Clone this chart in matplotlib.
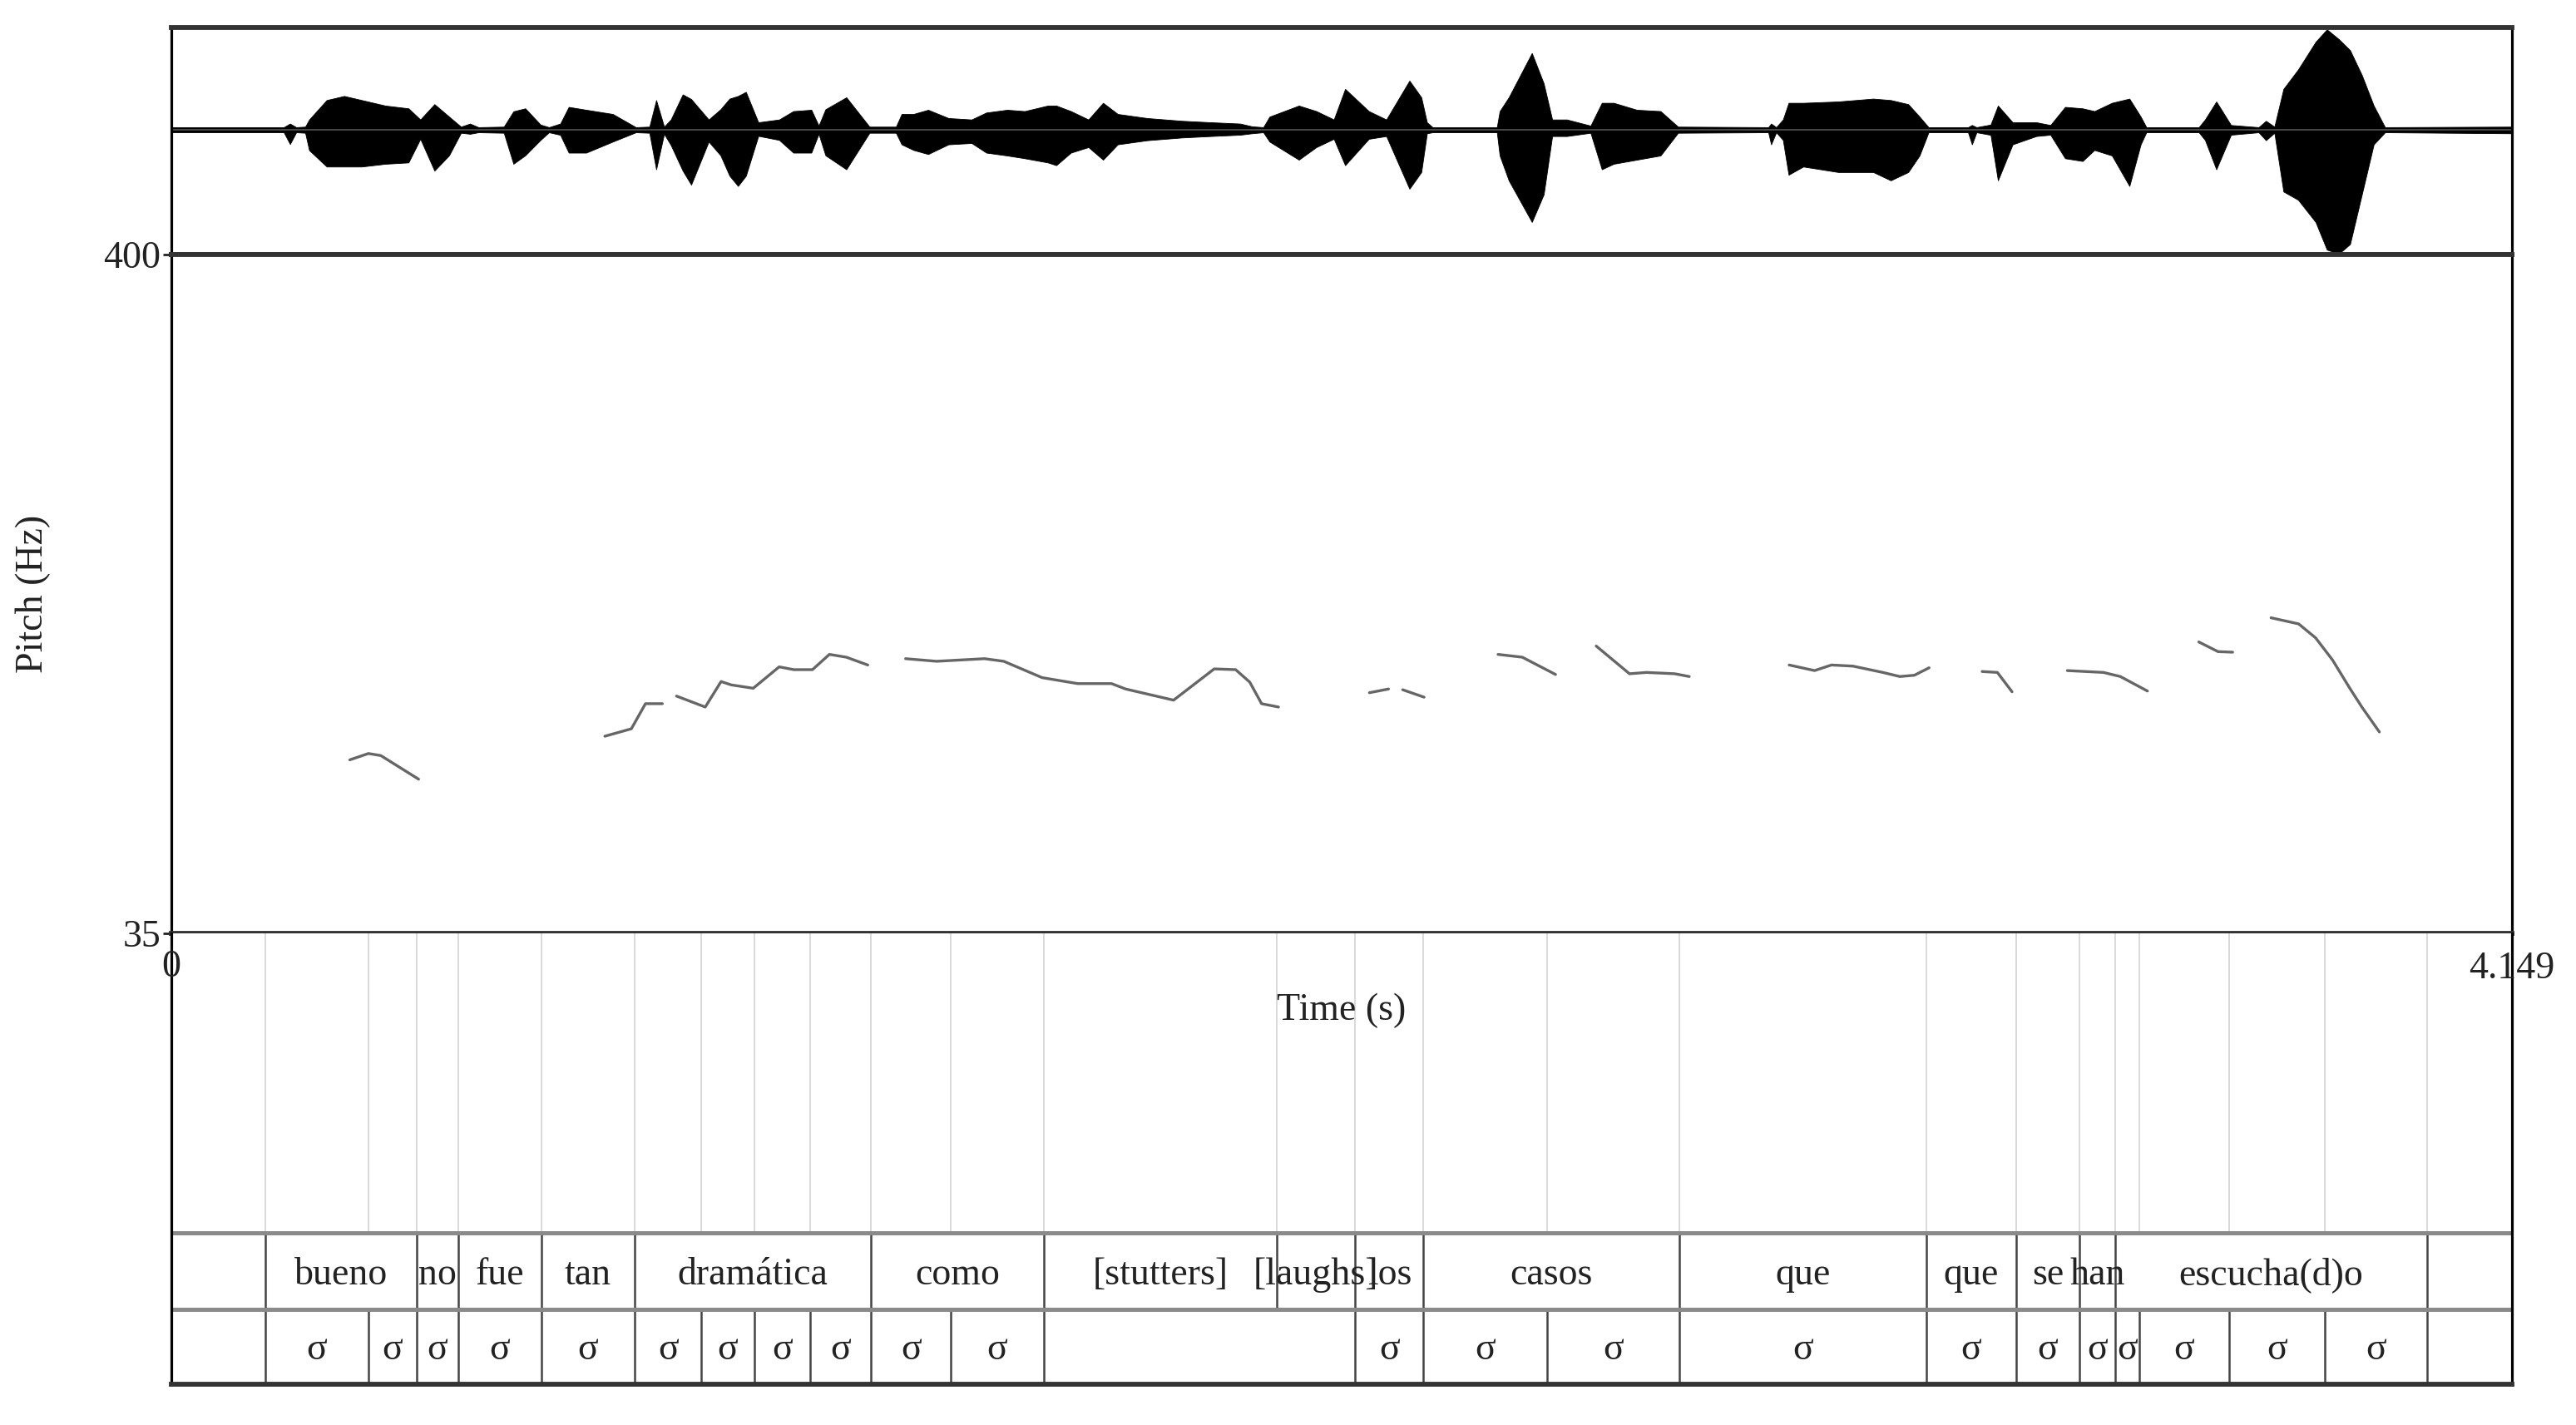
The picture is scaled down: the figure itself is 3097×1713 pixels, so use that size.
"""
Praat-style figure: waveform, pitch track and a two-tier TextGrid
(words / syllables) for a 4.149 s Spanish utterance.
"""

import matplotlib
matplotlib.use("Agg")
import matplotlib.pyplot as plt
import numpy as np

plt.rcParams["font.family"] = ["Liberation Serif", "DejaVu Serif"]

DUR = 4.149

# ---- waveform envelope (time s, upper / lower relative amplitude) ----
WAVE_T = [0.000, 0.200, 0.211, 0.222, 0.238, 0.245, 0.276, 0.307, 0.338, 0.380,
          0.421, 0.442, 0.467, 0.493, 0.514, 0.530, 0.545, 0.590, 0.607, 0.628,
          0.655, 0.670, 0.690, 0.705, 0.736, 0.783, 0.824, 0.848, 0.860, 0.874,
          0.886, 0.907, 0.922, 0.953, 0.974, 0.990, 1.005, 1.019, 1.041, 1.078,
          1.103, 1.135, 1.148, 1.160, 1.197, 1.238, 1.285, 1.295, 1.316, 1.342,
          1.378, 1.419, 1.445, 1.482, 1.513, 1.554, 1.569, 1.595, 1.626, 1.652,
          1.678, 1.730, 1.792, 1.843, 1.895, 1.916, 1.936, 1.947, 1.999, 2.030,
          2.061, 2.081, 2.123, 2.154, 2.195, 2.216, 2.226, 2.236, 2.350, 2.355,
          2.371, 2.412, 2.433, 2.448, 2.474, 2.516, 2.536, 2.557, 2.598, 2.640,
          2.671, 2.831, 2.836, 2.845, 2.857, 2.867, 2.893, 2.955, 3.017, 3.048,
          3.079, 3.099, 3.115, 3.185, 3.192, 3.200, 3.225, 3.238, 3.264, 3.306,
          3.331, 3.357, 3.388, 3.409, 3.440, 3.471, 3.491, 3.501, 3.594, 3.605,
          3.625, 3.651, 3.700, 3.713, 3.728, 3.744, 3.770, 3.801, 3.821, 3.842,
          3.862, 3.883, 3.904, 3.924, 4.149]
WAVE_UP = [0.025, 0.025, 0.06, 0.025, 0.03, 0.10, 0.29, 0.33, 0.29, 0.236,
           0.209, 0.10, 0.25, 0.128, 0.03, 0.06, 0.025, 0.03, 0.18, 0.209,
           0.05, 0.025, 0.06, 0.223, 0.195, 0.154, 0.025, 0.03, 0.29, 0.03,
           0.10, 0.345, 0.30, 0.10, 0.20, 0.304, 0.33, 0.37, 0.073, 0.10,
           0.182, 0.195, 0.04, 0.20, 0.317, 0.03, 0.03, 0.154, 0.154, 0.195,
           0.114, 0.10, 0.168, 0.195, 0.182, 0.236, 0.236, 0.182, 0.10, 0.263,
           0.154, 0.114, 0.087, 0.073, 0.06, 0.033, 0.025, 0.128, 0.236, 0.182,
           0.10, 0.399, 0.182, 0.10, 0.48, 0.317, 0.073, 0.025, 0.025, 0.182,
           0.317, 0.75, 0.453, 0.10, 0.10, 0.04, 0.263, 0.263, 0.195, 0.182,
           0.03, 0.025, 0.06, 0.025, 0.10, 0.263, 0.263, 0.276, 0.304, 0.29,
           0.25, 0.128, 0.025, 0.025, 0.046, 0.025, 0.05, 0.236, 0.073, 0.073,
           0.046, 0.223, 0.209, 0.182, 0.263, 0.304, 0.128, 0.025, 0.025, 0.10,
           0.276, 0.046, 0.025, 0.087, 0.03, 0.399, 0.589, 0.859, 0.981, 0.886,
           0.778, 0.534, 0.236, 0.025, 0.03]
WAVE_LO = [-0.025, -0.025, -0.14, -0.025, -0.03, -0.20, -0.36, -0.36, -0.36, -0.333,
           -0.32, -0.089, -0.40, -0.25, -0.03, -0.04, -0.025, -0.03, -0.333, -0.25,
           -0.10, -0.025, -0.05, -0.224, -0.224, -0.116, -0.025, -0.03, -0.387, -0.04,
           -0.15, -0.40, -0.537, -0.116, -0.25, -0.45, -0.55, -0.45, -0.06, -0.10,
           -0.224, -0.224, -0.04, -0.25, -0.387, -0.03, -0.03, -0.143, -0.198, -0.238,
           -0.143, -0.13, -0.224, -0.252, -0.279, -0.32, -0.347, -0.224, -0.17, -0.293,
           -0.143, -0.103, -0.076, -0.062, -0.049, -0.035, -0.025, -0.116, -0.293, -0.17,
           -0.089, -0.347, -0.089, -0.062, -0.577, -0.414, -0.035, -0.025, -0.025, -0.252,
           -0.495, -0.902, -0.631, -0.062, -0.062, -0.03, -0.387, -0.333, -0.293, -0.252,
           -0.03, -0.025, -0.143, -0.025, -0.10, -0.44, -0.36, -0.414, -0.414, -0.495,
           -0.414, -0.252, -0.025, -0.025, -0.143, -0.025, -0.05, -0.495, -0.143, -0.062,
           -0.049, -0.279, -0.306, -0.198, -0.252, -0.55, -0.143, -0.025, -0.025, -0.10,
           -0.387, -0.049, -0.025, -0.103, -0.03, -0.604, -0.685, -0.902, -1.172, -1.213,
           -1.118, -0.631, -0.143, -0.025, -0.035]

# ---- pitch track (Hz), nan separates voiced stretches ----
nan = np.nan
PITCH_T = [0.317, 0.350, 0.372, 0.439, nan,
           0.769, 0.816, 0.841, 0.871, nan,
           0.896, 0.947, 0.975, 0.993, 1.032, 1.078, 1.104, 1.137, 1.167, 1.197, 1.235, nan,
           1.302, 1.357, 1.442, 1.476, 1.544, 1.607, 1.667, 1.692, 1.777, 1.849, 1.887,
           1.912, 1.933, 1.963, nan,
           2.124, 2.158, nan,
           2.183, 2.221, nan,
           2.352, 2.395, 2.454, nan,
           2.526, 2.585, 2.615, 2.665, 2.691, nan,
           2.868, 2.913, 2.943, 2.981, 3.034, 3.064, 3.090, 3.116, nan,
           3.210, 3.237, 3.263, nan,
           3.361, 3.425, 3.455, 3.503, nan,
           3.594, 3.628, 3.654, nan,
           3.722, 3.771, 3.801, 3.831, 3.861, 3.883, 3.914]
PITCH_HZ = [128.3, 131.7, 130.6, 117.9, nan,
            141.0, 145.0, 158.5, 158.5, nan,
            162.6, 156.7, 170.4, 168.6, 166.8, 178.3, 176.8, 176.8, 185.0, 183.5, 179.3, nan,
            182.7, 181.3, 182.7, 181.3, 172.5, 169.3, 169.3, 166.4, 160.4, 177.2, 176.8,
            170.1, 158.5, 156.7, nan,
            164.4, 166.4, nan,
            166.0, 162.0, nan,
            185.0, 183.5, 174.2, nan,
            189.5, 174.6, 175.3, 174.6, 173.1, nan,
            179.3, 176.3, 179.3, 178.7, 175.3, 173.1, 173.8, 177.8, nan,
            175.8, 175.3, 164.9, nan,
            176.3, 175.3, 173.1, 165.3, nan,
            191.7, 186.5, 186.2, nan,
            204.7, 201.4, 193.9, 182.0, 167.1, 156.7, 143.3]
PITCH_MIN, PITCH_MAX = 35, 400

# ---- TextGrid tiers ----
WORD_BOUNDS = [0.167, 0.435, 0.509, 0.656, 0.822, 1.241, 1.547, 1.960, 2.099,
               2.220, 2.673, 3.111, 3.270, 3.383, 3.446, 3.998]
WORD_LABELS = ["", "bueno", "no", "fue", "tan", "dramática", "como", "[stutters]",
               "[laughs]", "los", "casos", "que", "que", "se", "han", "escucha(d)o", ""]
SYL_BOUNDS = [0.167, 0.350, 0.435, 0.509, 0.656, 0.822, 0.940, 1.034, 1.133,
              1.241, 1.382, 1.547, 2.099, 2.220, 2.439, 2.673, 3.111, 3.270,
              3.383, 3.446, 3.488, 3.648, 3.818, 3.998]
S = "σ"
SYL_LABELS = ["", S, S, S, S, S, S, S, S, S, S, S, "", S, S, S, S, S, S, S, S,
              S, S, S, ""]

W, H = 3097, 1713
X0, X1 = 205.5, 3020
Y_TOP, Y_WAVE, Y_PITCH, Y_BOT = 33, 306, 1122, 1664
FS = 33
DARK = "#333333"


def box(y_top, y_bot):
    return [X0 / W, 1 - y_bot / H, (X1 - X0) / W, (y_bot - y_top) / H]


def style(ax, top, bottom):
    ax.set_xlim(0, DUR)
    for side in ("left", "right"):
        ax.spines[side].set_linewidth(2.3)
        ax.spines[side].set_color("black")
    for side, on in (("top", top), ("bottom", bottom)):
        ax.spines[side].set_visible(on)
        ax.spines[side].set_linewidth(4.2)
        ax.spines[side].set_color(DARK)
    ax.set_xticks([])


fig = plt.figure(figsize=(W / 100, H / 100), dpi=100)

# waveform
axw = fig.add_axes(box(Y_TOP, Y_WAVE))
style(axw, True, True)
axw.fill_between(WAVE_T, WAVE_LO, WAVE_UP, color="black", lw=0.6)
axw.plot([0, DUR], [0, 0], color="#555555", lw=1.2)
axw.set_ylim(-1.22, 1.0)
axw.set_yticks([])

# pitch
axp = fig.add_axes(box(Y_WAVE, Y_PITCH))
style(axp, True, True)
axp.plot(PITCH_T, PITCH_HZ, color="#666666", lw=2.4, solid_capstyle="round")
axp.set_ylim(PITCH_MIN, PITCH_MAX)
axp.set_yticks([PITCH_MIN, PITCH_MAX])
axp.set_yticklabels([str(PITCH_MIN), str(PITCH_MAX)])
axp.tick_params(axis="y", length=7, width=2, labelsize=FS, pad=2, colors="#222222")

fig.text(39.5 / W, 1 - 714 / H, "Pitch (Hz)", rotation=90, ha="center",
         va="center", fontsize=FS, color="#222222")

# textgrid area, y in pixel units from bottom
axt = fig.add_axes(box(Y_PITCH, Y_BOT))
style(axt, False, True)
span = Y_BOT - Y_PITCH
tier_top = Y_BOT - 1482
tier_mid = Y_BOT - 1574
axt.set_ylim(0, span)
axt.set_yticks([])

all_bounds = sorted(set(WORD_BOUNDS) | set(SYL_BOUNDS))
axt.vlines(all_bounds, tier_top, span, color="#cfcfcf", lw=1.1)
axt.vlines(WORD_BOUNDS, tier_mid, tier_top, color="#444444", lw=1.8)
axt.vlines(SYL_BOUNDS, 0, tier_mid, color="#444444", lw=1.8)
for y in (tier_top, tier_mid):
    axt.axhline(y, color="#8a8a8a", lw=3.6)

w_edges = [0.0] + WORD_BOUNDS + [DUR]
for a, b, lab in zip(w_edges[:-1], w_edges[1:], WORD_LABELS):
    if lab:
        axt.text((a + b) / 2, Y_BOT - 1544, lab, ha="center", va="baseline",
                 fontsize=FS, color="#222222")
s_edges = [0.0] + SYL_BOUNDS + [DUR]
for a, b, lab in zip(s_edges[:-1], s_edges[1:], SYL_LABELS):
    if lab:
        axt.text((a + b) / 2, Y_BOT - 1634, lab, ha="center", va="baseline",
                 fontsize=FS, color="#222222")

axt.text(0, Y_BOT - 1163, "0", ha="center", va="center", fontsize=FS, color="#222222")
axt.text(DUR, Y_BOT - 1165, f"{DUR:g}", ha="center", va="center", fontsize=FS,
         color="#222222")
axt.text(DUR / 2, Y_BOT - 1215, "Time (s)", ha="center", va="center", fontsize=FS,
         color="#222222")

fig.savefig("out.png", dpi=100)
